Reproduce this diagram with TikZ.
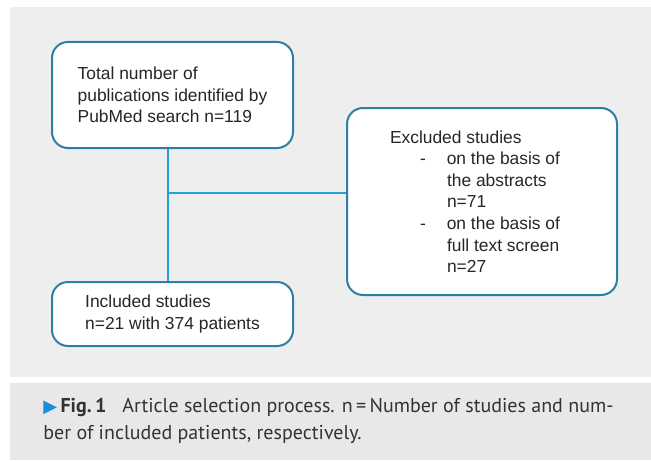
\documentclass[tikz,border=0pt]{standalone}
\usepackage{fontspec}
\setmainfont{Liberation Sans}
\newfontfamily\capfont{PT Sans}
\newfontfamily\symfont{DejaVu Sans}
\usepackage{tikz}
\usetikzlibrary{positioning}
\definecolor{boxline}{HTML}{2E7EA6}
\definecolor{linkline}{HTML}{1FA3D9}
\definecolor{panelgray}{HTML}{EEEEEE}
\definecolor{capgray}{HTML}{E8E8E8}
\definecolor{capblue}{HTML}{1A8FD6}
\tikzset{main box/.style={rectangle, draw=boxline, fill=white, line width=1pt, rounded corners=8pt, align=left, text=black!85, font=\fontsize{8.7}{10.8}\selectfont},
link/.style={draw=linkline, line width=1pt},}

\begin{document}
\begin{tikzpicture}[x=0.5pt, y=-0.5pt]
        \useasboundingbox (0,0) rectangle (651,460);
        % Panels
        \fill[panelgray] (10,7) rectangle (651,377);
        \fill[capgray] (10,383) rectangle (651,460);
        % Boxes
        \node[main box, minimum width=120.5pt, minimum height=53pt] (total) at (172.5,95) {Total number of\\publications identified by\\PubMed search n=119};
        \node[main box, minimum width=120.5pt, minimum height=32pt] (incl) at (172.5,314) {Included studies\\n=21 with 374 patients};
        \node[main box, minimum width=135pt, minimum height=93.5pt] (excl) at (482,201.5) {Excluded studies\\
            \hspace*{15pt}-\hspace*{10.5pt}on the basis of\hspace*{7pt}\mbox{}\\
            \hspace*{28.5pt}the abstracts\\
            \hspace*{28.5pt}n=71\\
            \hspace*{15pt}-\hspace*{10.5pt}on the basis of\\
            \hspace*{28.5pt}full text screen\\
            \hspace*{28.5pt}n=27};
        % Paths
        \coordinate (junc) at (168,193);
        \path[link] (junc |- total.south) -- (junc |- incl.north);
        \path[link] (junc) -- (junc -| excl.west);
        % Caption
        \node[anchor=north west, align=left, inner sep=0pt, text=black!80, font=\capfont\fontsize{10}{13.5}\selectfont] (cap) at (43,398)
            {{\symfont\color{capblue}\fontsize{9}{13.5}\selectfont ▶}\,\textbf{Fig.\,1}\hspace{8pt}Article selection process. n\,=\,Number of studies and num-\\ber of included patients, respectively.};
    \end{tikzpicture}
\end{document}
